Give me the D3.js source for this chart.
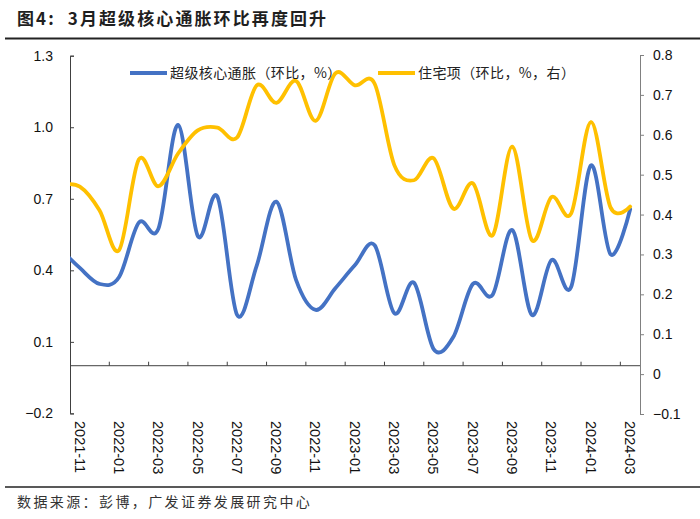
<!DOCTYPE html>
<html>
<head>
<meta charset="utf-8">
<script src="https://cdn.jsdelivr.net/npm/d3@7"></script>
<style>
  html, body { margin: 0; padding: 0; background: #ffffff; }
  svg { display: block; }
</style>
</head>
<body>
<svg id="chart" width="700" height="519"></svg>
<script>
// ---------------- data ----------------
const months = ["2021-10","2021-11","2021-12","2022-01","2022-02","2022-03","2022-04","2022-05","2022-06",
  "2022-07","2022-08","2022-09","2022-10","2022-11","2022-12","2023-01","2023-02","2023-03","2023-04",
  "2023-05","2023-06","2023-07","2023-08","2023-09","2023-10","2023-11","2023-12","2024-01","2024-02","2024-03"];
const supercore = [0.49, 0.41, 0.343, 0.372, 0.60, 0.575, 1.01, 0.544, 0.709, 0.213, 0.42, 0.688, 0.36, 0.234,
  0.325, 0.422, 0.505, 0.22, 0.348, 0.07, 0.12, 0.343, 0.297, 0.569, 0.213, 0.443, 0.331, 0.84, 0.467, 0.656];
const shelter = [0.475, 0.47, 0.411, 0.311, 0.538, 0.471, 0.553, 0.611, 0.618, 0.593, 0.724, 0.68, 0.735, 0.635,
  0.754, 0.724, 0.728, 0.524, 0.486, 0.541, 0.415, 0.478, 0.348, 0.57, 0.336, 0.444, 0.403, 0.632, 0.418, 0.42];
const xTickLabels = ["2021-11","2022-01","2022-03","2022-05","2022-07","2022-09","2022-11","2023-01",
  "2023-03","2023-05","2023-07","2023-09","2023-11","2024-01","2024-03"];
const leftTicks = [-0.2, 0.1, 0.4, 0.7, 1.0, 1.3];
const rightTicks = [-0.1, 0, 0.1, 0.2, 0.3, 0.4, 0.5, 0.6, 0.7, 0.8];
const seriesNames = ["超级核心通胀（环比，%）", "住宅项（环比，%，右）"];
const titleText = "图4:  3月超级核心通胀环比再度回升";
const sourceText = "数据来源：彭博，广发证券发展研究中心";

// ---------------- layout ----------------
const svg = d3.select("#chart");
const plotL = 70, plotR = 640;
const nShown = 29;
const step = (plotR - plotL) / nShown;
const x = d3.scalePoint().domain(months).range([plotL - step / 2, plotR - step / 2]);
const yL = d3.scaleLinear().domain([-0.2, 1.3]).range([413.4, 55.7]);
const yR = d3.scaleLinear().domain([-0.1, 0.8]).range([414, 55]);

const latin = "'Liberation Sans', Arial, sans-serif";
const cjk = "'Noto Sans CJK SC', 'Liberation Sans', sans-serif";

// Title
svg.append("text").attr("x", 17).attr("y", 25)
  .style("font-family", cjk).style("font-weight", "bold").style("font-size", "17px")
  .style("white-space", "pre")
  .style("letter-spacing", "2.1px").attr("fill", "#1f1f1f").text(titleText);
svg.append("line").attr("x1", 5).attr("x2", 700).attr("y1", 38.5).attr("y2", 38.5)
  .attr("stroke", "#222").attr("stroke-width", 2);

// Footer
svg.append("line").attr("x1", 5).attr("x2", 700).attr("y1", 487).attr("y2", 487)
  .attr("stroke", "#222").attr("stroke-width", 1.5);
svg.append("text").attr("x", 17).attr("y", 507)
  .style("font-family", cjk).style("font-size", "14px").style("letter-spacing", "2.4px")
  .attr("fill", "#333").text(sourceText);

// clip
svg.append("defs").append("clipPath").attr("id", "plotclip")
  .append("rect").attr("x", plotL).attr("y", 0).attr("width", plotR - plotL).attr("height", 519);

// zero line
svg.append("line").attr("x1", plotL).attr("x2", plotR).attr("y1", yL(0)).attr("y2", yL(0))
  .attr("stroke", "#404040").attr("stroke-width", 1);

// x ticks at band boundaries (pointing up)
svg.append("g").selectAll("line").data(xTickLabels.slice(1)).join("line")
  .attr("x1", d => x(d) - step / 2).attr("x2", d => x(d) - step / 2)
  .attr("y1", yL(0)).attr("y2", yL(0) - 4)
  .attr("stroke", "#404040").attr("stroke-width", 1);

// x labels (rotated)
svg.append("g").selectAll("text").data(xTickLabels).join("text")
  .attr("transform", d => `translate(${x(d)},421) rotate(90)`)
  .attr("dy", "0.36em").attr("text-anchor", "start")
  .style("font-family", latin).style("font-size", "14.5px").attr("fill", "#111")
  .text(d => d);

// left axis
const gL = svg.append("g").attr("transform", `translate(${plotL},0)`)
  .call(d3.axisLeft(yL).tickValues(leftTicks).tickFormat(d3.format(".1f"))
    .tickSizeInner(-4).tickSizeOuter(-4).tickPadding(17));
gL.select(".domain").attr("stroke", "#404040");
gL.selectAll(".tick line").attr("stroke", "#404040");
gL.selectAll("text").style("font-family", latin).style("font-size", "14px").attr("fill", "#111");

// right axis
const gR = svg.append("g").attr("transform", `translate(${plotR},0)`)
  .call(d3.axisRight(yR).tickValues(rightTicks)
    .tickFormat(d => Math.abs(d) < 1e-9 ? "0" : d3.format(".1f")(d))
    .tickSizeInner(4).tickSizeOuter(4).tickPadding(9));
gR.select(".domain").attr("stroke", "#808080");
gR.selectAll(".tick line").attr("stroke", "#808080");
gR.selectAll("text").style("font-family", latin).style("font-size", "14px").attr("fill", "#111");

// lines
const curve = d3.curveCardinal.tension(0);
const lineL = d3.line().x((d, i) => x(months[i])).y(d => yL(d)).curve(curve);
const lineR = d3.line().x((d, i) => x(months[i])).y(d => yR(d)).curve(curve);
const gLines = svg.append("g").attr("clip-path", "url(#plotclip)");
gLines.append("path").datum(supercore).attr("d", lineL)
  .attr("fill", "none").attr("stroke", "#4472C4").attr("stroke-width", 3.8)
  .attr("stroke-linejoin", "round").attr("stroke-linecap", "round");
gLines.append("path").datum(shelter).attr("d", lineR)
  .attr("fill", "none").attr("stroke", "#FFC000").attr("stroke-width", 3.8)
  .attr("stroke-linejoin", "round").attr("stroke-linecap", "round");

// legend
const legendItems = [
  { name: seriesNames[0], color: "#4472C4", x: 130 },
  { name: seriesNames[1], color: "#FFC000", x: 378 }
];
const lg = svg.append("g").selectAll("g").data(legendItems).join("g")
  .attr("transform", d => `translate(${d.x},73)`);
lg.append("line").attr("x1", 0).attr("x2", 37).attr("y1", 0).attr("y2", 0)
  .attr("stroke", d => d.color).attr("stroke-width", 3.8);
lg.append("text").attr("x", 40).attr("dy", "0.36em")
  .style("font-family", cjk).style("font-size", "14px").style("letter-spacing", "0.4px")
  .attr("fill", "#222").text(d => d.name);
</script>
</body>
</html>
